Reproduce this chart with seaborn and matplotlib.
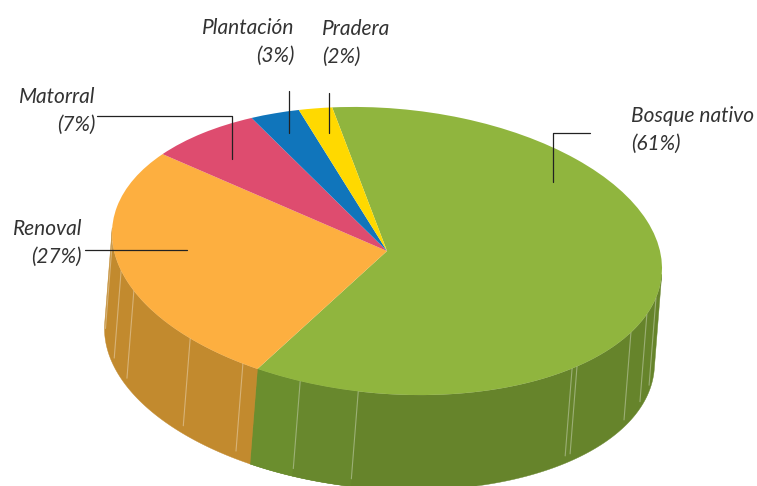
import numpy as np
import matplotlib
matplotlib.use("Agg")
import matplotlib.pyplot as plt
from matplotlib.transforms import Affine2D
import seaborn as sns

categories = ["Bosque nativo", "Renoval", "Matorral", "Plantación", "Pradera"]
values = [61, 27, 7, 3, 2]
top_colors = ["#90B53E", "#FDAF40", "#DE4C6F", "#1075BB", "#FFD900"]
wall_colors = ["#66842B", "#C28A2E"]
# pale seams on the visible wall, as pie angles (degrees)
seams_orange = [183, 194.8, 203, 224.3, 238.4]
seams_green = [251.6, 264, 312.3, 313.7, 332.5, 340.9, 348]
panel_greens = [(251.6, "#6B8E2E"), (264, "#68882D")]

W, H = 757, 486
CX, CY, RX, RY = 387, 251, 275, 143
DX, DY = -7.5, 95
START = 101.5
TILT = -0.122

sns.set_theme(style="white")
plt.rcParams["font.family"] = ["Lato", "DejaVu Sans"]
palette = sns.color_palette(top_colors)

fig = plt.figure(figsize=(W / 100, H / 100), dpi=100, facecolor="white")
ax = fig.add_axes([0, 0, 1, 1])
ax.set_xlim(-CX / RX, (W - CX) / RX)
ax.set_ylim(-(H - CY) / RY, CY / RY)
shear = Affine2D.from_values(1, TILT, 0, 1, 0, 0)
tr = shear + ax.transData

# depth offset expressed in the un-tilted disc coordinates
dx = DX / RX
dy = -DY / RY - TILT * dx
base = np.degrees(np.arctan2(dy, dx)) % 360
vis0, vis1 = base - 90, base + 90

edges = START - np.cumsum([0] + values) * 3.6   # clockwise
bosque_end = edges[1] % 360


def wall(t0, t1, color):
    t = np.radians(np.linspace(t0, t1, 160))
    x, y = np.cos(t), np.sin(t)
    ax.fill(np.r_[x, x[::-1] + dx], np.r_[y, y[::-1] + dy], color=color, lw=0.3,
            ec=color, zorder=1, transform=tr)


wall(bosque_end, vis1, wall_colors[0])
prev = bosque_end
for end, c in panel_greens:
    wall(prev, end, c)
    prev = end
wall(vis0, bosque_end, wall_colors[1])

for s in seams_orange + seams_green:
    if not (vis0 < s < vis1):
        continue
    t = np.radians(s)
    x, y = np.cos(t), np.sin(t)
    ax.plot([x, x + dx * 0.92], [y, y + dy * 0.92], color="white", alpha=0.35, lw=0.8,
            zorder=2, transform=tr)

wedges, _ = ax.pie(values, colors=palette, startangle=START, counterclock=False, radius=1,
                   wedgeprops=dict(lw=0, zorder=3), frame=False)
for w in wedges:
    w.set_transform(tr)
ax.set_aspect("auto")
ax.set_xlim(-CX / RX, (W - CX) / RX)
ax.set_ylim(-(H - CY) / RY, CY / RY)
ax.axis("off")


def px(x, y):
    return x / W, 1 - y / H


leaders = [
    [(590, 133), (553, 133), (553, 182)],
    [(85, 250), (187, 250)],
    [(97, 116), (232, 116), (232, 159)],
    [(288.5, 91), (288.5, 133)],
    [(329, 93), (329, 133)],
]
for pts in leaders:
    xs, ys = zip(*[px(*p) for p in pts])
    ax.plot(xs, ys, transform=fig.transFigure, color="#222222", lw=0.9, zorder=5, clip_on=False)

labels = [
    (0, 631, 150, "left"),
    (1, 82, 263, "right"),
    (2, 95, 131, "right"),
    (3, 294, 62, "right"),
    (4, 322, 63, "left"),
]
for i, x, y, ha in labels:
    xf, yf = px(x, y)
    ax.text(xf, yf, f"{categories[i]}\n({values[i]}%)", transform=fig.transFigure,
            ha=ha, ma=ha, va="baseline", style="italic", fontsize=15, color="#333333",
            linespacing=1.48, zorder=6)

fig.savefig("out.png", dpi=100)
